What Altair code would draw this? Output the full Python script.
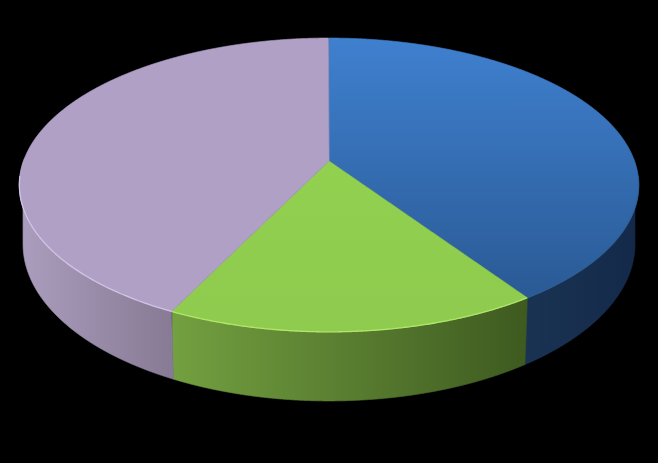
import numpy as np
import pandas as pd
import altair as alt

# Slice shares (percent), clockwise from 12 o'clock
labels = ["Blue", "Green", "Purple"]
shares = [40.51, 16.74, 42.75]
top_fill = [("#3f80cf", "#2a5a95"), ("#92d050", "#8ecb4e"), ("#b0a0c6", "#b0a0c6")]
wall_fill = [("#1a3353", "#14294a"), ("#73a040", "#3e5a20"), ("#ab9dbd", "#877a94")]
rim_color = ["#2f6199", "#b9ef70", "#d8cbee"]

# Perspective of the tilted disc, in pixels of the photographed page
CX, CY, A, B, K, D = 329.0, 161.0, 305.5, 143.0, 0.163, 57.8
SHRINK = 0.988
PAGE = 8


def rim(theta, lower=False):
    u, v = np.sin(theta), -np.cos(theta)
    w = 1 - K * v
    if lower:
        return CX + SHRINK * A * u / w, CY + (B * v + D) / w
    return CX + A * u / w, CY + B * v / w


def spans(px, py):
    """Turn a polygon into x, y, y2 columns for an area mark."""
    xs = np.unique(np.round(np.concatenate([px, np.linspace(px.min(), px.max(), 500)]), 2))
    rows = []
    qx, qy = np.roll(px, -1), np.roll(py, -1)
    for x in xs:
        hit = ((px <= x) & (qx >= x)) | ((qx <= x) & (px >= x))
        d = np.where(qx[hit] == px[hit], 1, qx[hit] - px[hit])
        ys = py[hit] + (x - px[hit]) * (qy[hit] - py[hit]) / d
        if len(ys):
            rows.append((x - PAGE, ys.min() - PAGE, ys.max() - PAGE))
    return pd.DataFrame(rows, columns=["x", "y", "y2"])


xs_scale = alt.Scale(domain=[0, 642], range=[0, 642], nice=False, zero=False)
ys_scale = alt.Scale(domain=[0, 447], range=[0, 447], nice=False, zero=False)
X = alt.X("x:Q", scale=xs_scale, axis=None)
Y = alt.Y("y:Q", scale=ys_scale, axis=None)
Y2 = alt.Y2("y2:Q")


def area(df, c0, c1, horizontal):
    grad = alt.LinearGradient(
        gradient="linear",
        x1=0, y1=0,
        x2=1 if horizontal else 0,
        y2=0 if horizontal else 1,
        stops=[alt.GradientStop(offset=0, color=c0), alt.GradientStop(offset=1, color=c1)],
    )
    return (
        alt.Chart(df)
        .mark_area(fill=grad, stroke=grad, strokeWidth=0.7, interpolate="linear")
        .encode(x=X, y=Y, y2=Y2)
    )


edges = np.cumsum([0] + shares) / sum(shares) * 2 * np.pi
walls, tops, rims = [], [], []
for i in range(len(shares)):
    t = np.linspace(edges[i], edges[i + 1], 240)
    # top face
    rx, ry = rim(t)
    tops.append(area(spans(np.r_[CX, rx], np.r_[CY, ry]), *top_fill[i], False))
    # side wall, only the part facing the viewer
    front = np.cos(t) <= 0.02
    if front.any():
        tf = t[front]
        ax, ay = rim(tf)
        bx, by = rim(tf[::-1], lower=True)
        walls.append(area(spans(np.r_[ax, bx], np.r_[ay, by]), *wall_fill[i], True))
        lx, ly = rim(t[np.cos(t) <= -0.1])
        rims.append(
            alt.Chart(pd.DataFrame({"x": lx - PAGE, "y": ly - PAGE, "o": np.arange(len(lx))}))
            .mark_line(color=rim_color[i], strokeWidth=1.3, opacity=0.85)
            .encode(x=X, y=Y, order="o:Q")
        )

chart = (
    alt.layer(*walls, *tops, *rims)
    .properties(width=642, height=447, background="#000000", padding=0)
    .configure_view(stroke=None)
)
chart.save(
    "out.html",
    embed_options={
        "renderer": "svg",
        "actions": False,
        "defaultStyle": "html,body{background:#000000}",
    },
)
